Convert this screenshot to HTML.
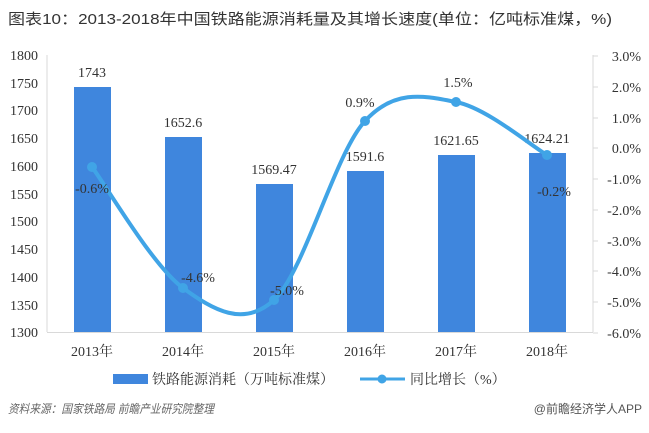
<!DOCTYPE html>
<html><head><meta charset="utf-8"><style>
body{margin:0;background:#fff;width:649px;height:428px;overflow:hidden}
text{font-family:"Liberation Serif","Noto Serif CJK SC",serif}
</style></head><body>
<svg width="649" height="428" xmlns="http://www.w3.org/2000/svg">
<text x="8" y="24" font-size="15" fill="#333" textLength="604" lengthAdjust="spacingAndGlyphs" style="font-family:'Liberation Sans','Noto Sans CJK SC',sans-serif">图表10：2013-2018年中国铁路能源消耗量及其增长速度(单位：亿吨标准煤，%)</text>
<g font-size="14" fill="#333" text-anchor="end">
<text x="38" y="60">1800</text><text x="38" y="88">1750</text><text x="38" y="115">1700</text><text x="38" y="143">1650</text><text x="38" y="171">1600</text><text x="38" y="199">1550</text><text x="38" y="226">1500</text><text x="38" y="254">1450</text><text x="38" y="282">1400</text><text x="38" y="310">1350</text><text x="38" y="337">1300</text>
</g>
<g font-size="14" fill="#333" text-anchor="end">
<text x="641" y="61">3.0%</text><text x="641" y="92">2.0%</text><text x="641" y="123">1.0%</text><text x="641" y="153">0.0%</text><text x="641" y="184">-1.0%</text><text x="641" y="215">-2.0%</text><text x="641" y="246">-3.0%</text><text x="641" y="276">-4.0%</text><text x="641" y="307">-5.0%</text><text x="641" y="338">-6.0%</text>
</g>
<line x1="47" y1="55" x2="47" y2="332" stroke="#d9d9d9"/>
<line x1="593" y1="55" x2="593" y2="332" stroke="#d9d9d9"/>
<line x1="47" y1="332.5" x2="593" y2="332.5" stroke="#d9d9d9"/>
<g stroke="#d9d9d9"><line x1="593" y1="56" x2="598" y2="56"/><line x1="593" y1="87" x2="598" y2="87"/><line x1="593" y1="118" x2="598" y2="118"/><line x1="593" y1="148" x2="598" y2="148"/><line x1="593" y1="179" x2="598" y2="179"/><line x1="593" y1="210" x2="598" y2="210"/><line x1="593" y1="241" x2="598" y2="241"/><line x1="593" y1="271" x2="598" y2="271"/><line x1="593" y1="302" x2="598" y2="302"/><line x1="593" y1="333" x2="598" y2="333"/></g>
<g fill="#3f86dd">
<rect x="74" y="87" width="37" height="245"/>
<rect x="165" y="137" width="37" height="195"/>
<rect x="256" y="184" width="37" height="148"/>
<rect x="347" y="171" width="37" height="161"/>
<rect x="438" y="155" width="37" height="177"/>
<rect x="529" y="153" width="37" height="179"/>
</g>
<g font-size="14" fill="#333" text-anchor="middle">
<text x="92" y="77">1743</text><text x="183" y="127">1652.6</text><text x="274" y="174">1569.47</text><text x="365" y="161">1591.6</text><text x="456" y="145">1621.65</text><text x="547" y="143">1624.21</text>
</g>
<path d="M92,167 C107,187 152.7,265.8 183,288 C213.3,310.2 243.7,327.8 274,300 C304.3,272.2 334.7,154 365,121 C395.3,88 425.7,96.3 456,102 C486.3,107.7 531.8,146.2 547,155" fill="none" stroke="#40a4e6" stroke-width="4"/>
<g fill="#40a4e6"><circle cx="92" cy="167" r="5"/><circle cx="183" cy="288" r="5"/><circle cx="274" cy="300" r="5"/><circle cx="365" cy="121" r="5"/><circle cx="456" cy="102" r="5"/><circle cx="547" cy="155" r="5"/></g>
<g font-size="14" fill="#333" text-anchor="middle">
<text x="92" y="193">-0.6%</text><text x="198" y="282">-4.6%</text><text x="287" y="295">-5.0%</text><text x="360" y="107">0.9%</text><text x="458" y="87">1.5%</text><text x="554" y="196">-0.2%</text>
</g>
<g font-size="14" fill="#333" text-anchor="middle">
<text x="92" y="356">2013年</text><text x="183" y="356">2014年</text><text x="274" y="356">2015年</text><text x="365" y="356">2016年</text><text x="456" y="356">2017年</text><text x="547" y="356">2018年</text>
</g>
<rect x="113" y="374" width="35" height="10" fill="#3f86dd"/>
<text x="152" y="384" font-size="14" fill="#333">铁路能源消耗（万吨标准煤）</text>
<line x1="360" y1="379" x2="405" y2="379" stroke="#40a4e6" stroke-width="3"/><circle cx="382" cy="379" r="4.5" fill="#40a4e6"/>
<text x="410" y="384" font-size="14" fill="#333">同比增长（%）</text>
<text x="8" y="413" font-size="12" fill="#666" font-style="italic" textLength="206" lengthAdjust="spacingAndGlyphs" style="font-family:'Liberation Sans','Noto Sans CJK SC',sans-serif">资料来源：国家铁路局 前瞻产业研究院整理</text>
<text x="642" y="413" font-size="12" fill="#555" text-anchor="end" style="font-family:'Liberation Sans','Noto Sans CJK SC',sans-serif">@前瞻经济学人APP</text>
</svg>
</body></html>
